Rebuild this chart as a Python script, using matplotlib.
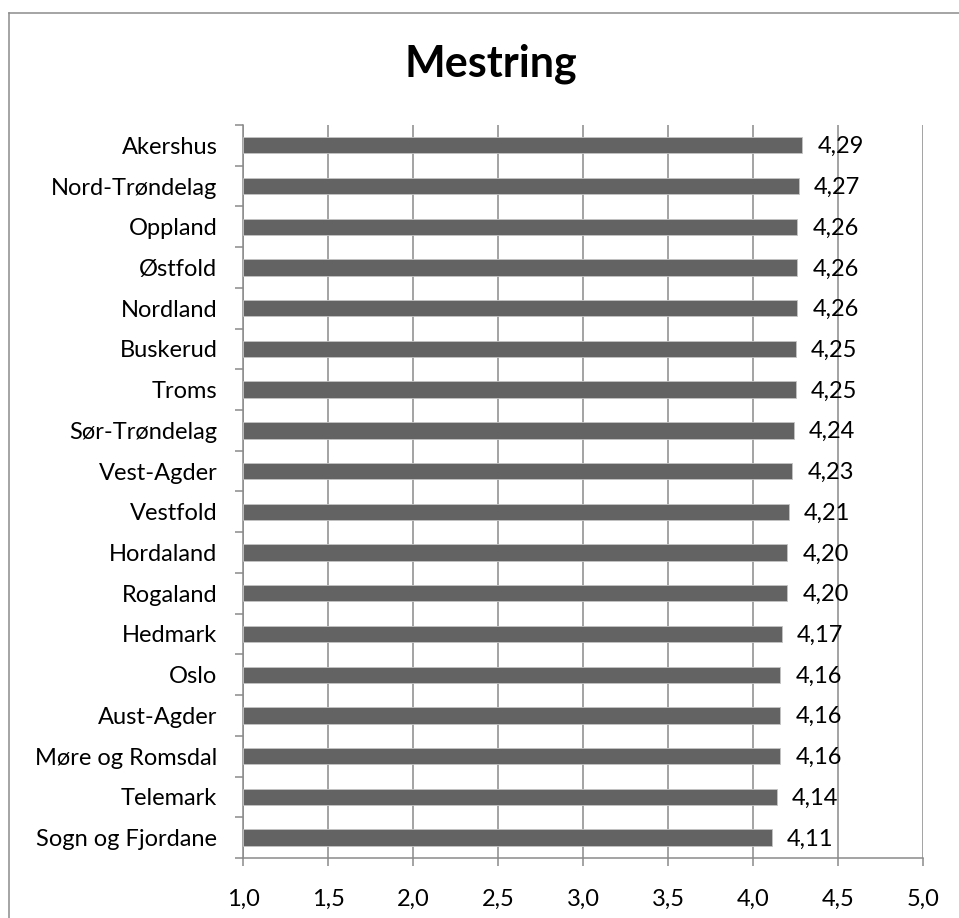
import numpy as np
import matplotlib
matplotlib.use("Agg")
import matplotlib.pyplot as plt
from matplotlib.lines import Line2D
from matplotlib.ticker import FixedLocator

# Fylker og gjennomsnittlig mestring (skala 1-5)
fylker = [
    "Akershus", "Nord-Trøndelag", "Oppland", "Østfold", "Nordland",
    "Buskerud", "Troms", "Sør-Trøndelag", "Vest-Agder", "Vestfold",
    "Hordaland", "Rogaland", "Hedmark", "Oslo", "Aust-Agder",
    "Møre og Romsdal", "Telemark", "Sogn og Fjordane",
]
mestring = [
    4.29, 4.27, 4.26, 4.26, 4.26,
    4.25, 4.25, 4.24, 4.23, 4.21,
    4.20, 4.20, 4.17, 4.16, 4.16,
    4.16, 4.14, 4.11,
]
x_ticks = [1.0, 1.5, 2.0, 2.5, 3.0, 3.5, 4.0, 4.5, 5.0]
x_min = 1.0

plt.rcParams["font.family"] = ["Lato", "DejaVu Sans"]

BAR_COLOR = "#636363"
GRID_COLOR = "#8a8a8a"
FS = 17

fig = plt.figure(figsize=(9.59, 9.18), dpi=100)
ax = fig.add_axes([0.2534, 0.0654, 0.7091, 0.7985])

n = len(fylker)
ypos = np.arange(n)[::-1]

# Stolpene starter på aksens minimum (1,0)
ax.barh(ypos, np.array(mestring) - x_min, left=x_min, height=0.4,
        color=BAR_COLOR, edgecolor="#c4c4c4", linewidth=0.6, zorder=3)

for y, v in zip(ypos, mestring):
    ax.annotate(f"{v:.2f}".replace(".", ","), xy=(v, y), xytext=(11, -1),
                textcoords="offset points", ha="left", va="center",
                fontsize=FS, color="black", zorder=4)

ax.set_xlim(x_min, 5.0)
ax.set_ylim(-0.5, n - 0.5)
ax.set_xticks(x_ticks)
ax.set_xticklabels([f"{t:.1f}".replace(".", ",") for t in x_ticks])
ax.xaxis.grid(True, color=GRID_COLOR, linewidth=1.1, zorder=0)
ax.set_axisbelow(True)

ax.set_yticks(ypos)
ax.set_yticklabels(fylker)
ax.yaxis.set_minor_locator(FixedLocator(np.arange(-0.5, n, 1.0)))
ax.tick_params(axis="y", which="major", length=0, pad=18.5, labelsize=FS)
ax.tick_params(axis="y", which="minor", length=6, width=1.1, color=GRID_COLOR)
ax.tick_params(axis="x", which="major", length=6, width=1.1, color=GRID_COLOR,
               pad=16, labelsize=FS)

for side in ["top", "right"]:
    ax.spines[side].set_visible(False)
for side in ["left", "bottom"]:
    ax.spines[side].set_color(GRID_COLOR)
    ax.spines[side].set_linewidth(1.1)

fig.text(491 / 959, 1 - 64 / 918, "Mestring", ha="center", va="center",
         fontsize=31, fontweight="bold")

# Diagramramme (øvre og venstre kant)
fig.add_artist(Line2D([9 / 959, 1.0], [1 - 13 / 918, 1 - 13 / 918],
                      color="#8c8c8c", linewidth=1.1, transform=fig.transFigure))
fig.add_artist(Line2D([9 / 959, 9 / 959], [0.0, 1 - 13 / 918],
                      color="#8c8c8c", linewidth=1.1, transform=fig.transFigure))

fig.savefig("out.png", dpi=100)
